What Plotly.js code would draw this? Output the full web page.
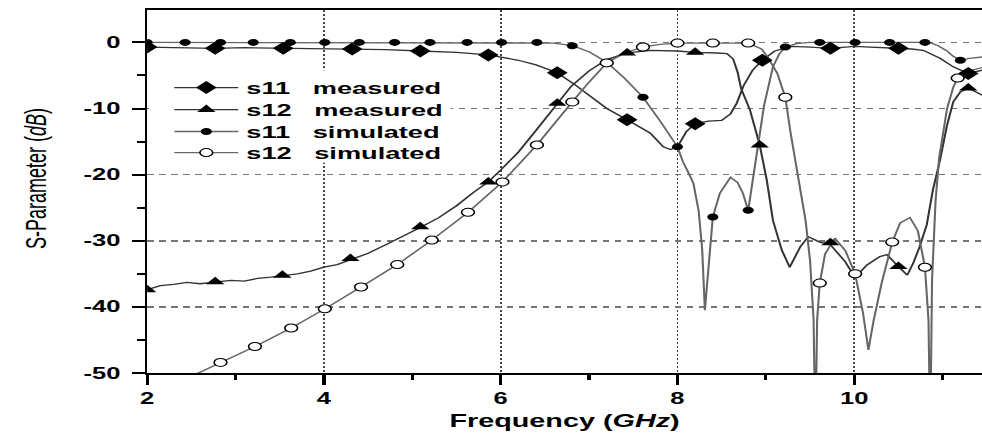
<!DOCTYPE html>
<html><head><meta charset="utf-8">
<script src="https://cdn.plot.ly/plotly-3.0.1.min.js"></script>
<style>
html,body{margin:0;padding:0;background:#fff;overflow:hidden;}
#wrap{width:982px;height:434px;overflow:hidden;position:relative;}
#chart{width:614px;height:434px;transform:scaleX(1.5993);transform-origin:0 0;}
#chart .ytitle{translate:0 -13px;}
</style></head><body>
<div id="wrap"><div id="chart"></div></div>
<script>
// ---- data (frequency in GHz, S-parameter in dB) ----
const s11MeasX = [2.0,2.3,2.77,3.1,3.54,3.9,4.32,4.7,5.09,5.5,5.86,6.2,6.4,6.64,6.85,7.0,7.2,7.43,7.69,7.84,7.92,8.0,8.1,8.2,8.35,8.5,8.6,8.67,8.75,8.85,8.96,9.1,9.3,9.5,9.73,10.0,10.2,10.5,10.65,10.78,10.97,11.12,11.29,11.45];
const s11MeasY = [-0.7,-0.8,-0.9,-0.8,-0.9,-0.9,-1.0,-1.1,-1.3,-1.5,-1.9,-2.7,-3.4,-4.6,-6.5,-8.0,-10.0,-11.7,-13.7,-15.8,-16.2,-15.8,-13.5,-12.3,-11.9,-11.8,-10.8,-9.2,-6.5,-4.2,-2.7,-1.3,-0.6,-0.7,-0.9,-0.6,-0.7,-0.9,-1.0,-1.2,-2.4,-3.7,-4.7,-4.2];

const s12MeasX = [2.0,2.15,2.3,2.45,2.6,2.77,2.95,3.1,3.25,3.4,3.53,3.7,3.85,4.0,4.15,4.3,4.5,4.7,4.9,5.09,5.3,5.5,5.7,5.86,6.0,6.2,6.4,6.64,6.8,7.0,7.2,7.43,7.7,8.0,8.2,8.45,8.56,8.63,8.68,8.72,8.82,8.93,9.01,9.08,9.18,9.27,9.39,9.48,9.61,9.73,9.9,10.01,10.14,10.29,10.37,10.5,10.6,10.67,10.74,10.82,10.89,10.97,11.05,11.12,11.2,11.29,11.45];
const s12MeasY = [-37.4,-36.8,-36.6,-36.3,-36.5,-36.3,-36.0,-36.1,-35.7,-35.5,-35.3,-35.0,-34.6,-34.0,-33.6,-32.9,-31.9,-30.6,-29.3,-28.0,-26.5,-24.7,-22.6,-21.1,-19.3,-16.6,-13.3,-9.2,-6.6,-4.3,-2.6,-1.6,-1.2,-1.3,-1.5,-1.6,-1.7,-2.5,-4.5,-7.0,-10.2,-15.5,-20.8,-26.9,-31.4,-34.0,-30.9,-29.4,-30.2,-30.6,-33.2,-35.6,-33.7,-32.4,-32.1,-33.9,-35.2,-33.3,-30.9,-27.6,-22.3,-17.8,-12.5,-9.0,-7.5,-6.9,-8.0];

const s11SimX = [2.0,2.5,3.0,3.5,4.0,4.5,5.0,5.5,6.0,6.4,6.6,6.81,7.0,7.2,7.4,7.61,7.8,8.0,8.06,8.12,8.18,8.24,8.28,8.31,8.34,8.37,8.4,8.48,8.6,8.68,8.74,8.8,8.84,8.9,8.98,9.08,9.15,9.22,9.35,9.5,10.0,10.5,10.85,10.95,11.05,11.12,11.2,11.3,11.45];
const s11SimY = [0,0,0,0,0,0,0,0,0,0,-0.1,-0.5,-1.4,-3.0,-5.4,-8.3,-11.8,-15.8,-18.0,-19.6,-21.3,-25.5,-31.4,-40.5,-35.0,-31.4,-26.4,-22.8,-20.4,-21.2,-22.8,-25.4,-22.0,-16.3,-9.5,-3.7,-1.8,-0.7,-0.2,0,0,0,0,-0.5,-1.3,-2.1,-2.7,-2.4,-2.2];

const s12SimX = [2.5,2.83,3.22,3.63,4.01,4.42,4.83,5.22,5.63,6.02,6.41,6.81,7.0,7.2,7.4,7.61,7.8,8.0,8.4,8.8,8.95,9.02,9.13,9.22,9.28,9.39,9.45,9.5,9.54,9.56,9.58,9.61,9.67,9.78,9.9,10.01,10.1,10.16,10.22,10.31,10.43,10.52,10.63,10.72,10.8,10.84,10.86,10.88,10.92,10.96,11.05,11.12,11.17,11.3,11.45];
const s12SimY = [-50.5,-48.4,-46.0,-43.2,-40.3,-37.0,-33.6,-29.9,-25.7,-21.1,-15.5,-9.0,-6.0,-3.1,-1.6,-0.7,-0.3,-0.1,-0.1,-0.1,-1.0,-2.2,-4.7,-8.3,-13.7,-21.8,-27.0,-33.0,-42.0,-60.0,-42.0,-36.4,-32.0,-29.6,-31.5,-35.0,-41.0,-46.5,-42.0,-36.4,-30.2,-27.3,-26.5,-28.5,-34.0,-42.0,-60.0,-36.0,-24.0,-17.5,-10.0,-6.8,-5.4,-4.3,-3.8];

// marker positions
const s11MeasMkX = [2.0,2.77,3.54,4.32,5.09,5.86,6.64,7.43,8.2,8.96,9.73,10.5,11.29];
const s11MeasMkY = [-0.7,-0.9,-0.9,-1.0,-1.3,-1.9,-4.6,-11.7,-12.3,-2.7,-0.9,-0.9,-4.7];
const s12MeasMkX = [2.0,2.77,3.53,4.3,5.09,5.86,6.64,7.43,8.2,8.93,9.73,10.5,11.29];
const s12MeasMkY = [-37.4,-36.2,-35.2,-32.7,-27.9,-21.1,-9.2,-1.6,-1.5,-15.5,-30.3,-33.9,-6.9];
const s11SimMkX = [2.0,2.43,2.83,3.2,3.62,4.01,4.4,4.8,5.2,5.62,6.01,6.41,6.81,7.2,7.61,8.0,8.4,8.8,9.22,9.61,10.01,10.4,10.8,11.2];
const s11SimMkY = [0,0,0,0,0,0,0,0,0,0,0,0,-0.5,-3.0,-8.3,-15.8,-26.4,-25.4,-0.7,0,0,0,0,-2.7];
const s12SimMkX = [2.83,3.22,3.63,4.01,4.42,4.83,5.22,5.63,6.02,6.41,6.81,7.2,7.61,8.0,8.4,8.8,9.22,9.61,10.01,10.43,10.8,11.17];
const s12SimMkY = [-48.4,-46.0,-43.2,-40.3,-37.0,-33.6,-29.9,-25.7,-21.1,-15.5,-9.0,-3.1,-0.7,-0.1,-0.1,-0.1,-8.3,-36.4,-35.0,-30.2,-34.0,-5.4];

// axes ticks
const xTickVals = [2,4,6,8,10];
const xTickText = ['2','4','6','8','10'];
const xMinorVals = [3,5,7,9,11];
const yTickVals = [-50,-40,-30,-20,-10,0];
const yTickText = ['-50','-40','-30','-20','-10','0'];
const yMinorVals = [-45,-35,-25,-15,-5];

const seriesNames = ['s11\u00a0\u00a0\u00a0measured','s12\u00a0\u00a0\u00a0measured','s11\u00a0\u00a0\u00a0simulated','s12\u00a0\u00a0\u00a0simulated'];

// ---- styling ----
const FONT = '"Liberation Sans", Arial, sans-serif';
const measLine = {color:'#333', width:1.3};
const simLine = {color:'#666', width:1.3};
const mk = [
  {symbol:'diamond', size:10, color:'#000'},
  {symbol:'triangle-up', size:10, color:'#000'},
  {symbol:'circle', size:7, color:'#000'},
  {symbol:'circle', size:8, color:'#fff', line:{color:'#000', width:1}}
];
const lines = [measLine, measLine, simLine, simLine];

const curves = [[s11MeasX,s11MeasY],[s12MeasX,s12MeasY],[s11SimX,s11SimY],[s12SimX,s12SimY]];
const marks = [[s11MeasMkX,s11MeasMkY],[s12MeasMkX,s12MeasMkY],[s11SimMkX,s11SimMkY],[s12SimMkX,s12SimMkY]];

const data = [];
curves.forEach((c,i)=>data.push({x:c[0], y:c[1], type:'scatter', mode:'lines', line:lines[i], showlegend:false, hoverinfo:'skip'}));
marks.forEach((m,i)=>data.push({x:m[0], y:m[1], type:'scatter', mode:'markers', marker:mk[i], showlegend:false, hoverinfo:'skip'}));
const legIds = ['legend','legend2','legend3','legend4'];
seriesNames.forEach((n,i)=>data.push({x:[null], y:[null], type:'scatter', mode:'lines+markers', name:n, line:lines[i], marker:mk[i], legend:legIds[i], showlegend:true}));

const legFont = {family:FONT, size:17, color:'#000', weight:'bold'};
const rowY = [0.785, 0.7245, 0.664, 0.606];
const layout = {
  width:614, height:434,
  margin:{l:92, r:0, t:10, b:61},
  paper_bgcolor:'#fff', plot_bgcolor:'#fff',
  font:{family:FONT, color:'#000'},
  xaxis:{
    range:[2,11.445], tickmode:'array', tickvals:xTickVals, ticktext:xTickText,
    ticks:'outside', ticklen:10, tickwidth:2, tickcolor:'#000',
    showline:true, linecolor:'#000', linewidth:2, mirror:true,
    showgrid:true, gridcolor:'#444', gridwidth:1.1, griddash:'2px,2px', zeroline:false,
    minor:{tickmode:'array', tickvals:xMinorVals, ticks:'outside', ticklen:5, tickwidth:2, tickcolor:'#000', showgrid:false},
    tickfont:{family:FONT, size:16, weight:'bold', color:'#000'},
    title:{text:'Frequency (<i>GHz</i>)', font:{family:FONT, size:18, weight:'bold', color:'#000'}, standoff:8},
    automargin:false
  },
  yaxis:{
    range:[-50,4.9], tickmode:'array', tickvals:yTickVals, ticktext:yTickText,
    ticks:'outside', ticklen:8, tickwidth:2, tickcolor:'#000',
    showline:true, linecolor:'#000', linewidth:1.5, mirror:false,
    showgrid:true, gridcolor:'#777', gridwidth:1.5, griddash:'4px,3.5px', zeroline:false,
    minor:{tickmode:'array', tickvals:yMinorVals, ticks:'outside', ticklen:5, tickwidth:2, tickcolor:'#000', showgrid:false},
    tickfont:{family:FONT, size:16, weight:'bold', color:'#000'},
    ticklabelstandoff:4,
    title:{text:'S-Parameter (<i>dB</i>)', font:{family:FONT, size:18, color:'#000'}, standoff:18},
    automargin:false
  },
  // white panel behind the legend (no curve passes through this area; legends are drawn above it)
  shapes:[{type:'rect', xref:'x', yref:'y', x0:2.02, x1:5.43, y0:-18.2, y1:-4.2,
           fillcolor:'#fff', line:{width:0}, layer:'above'}]
};
legIds.forEach((id,i)=>{
  layout[id] = {x:0.023, y:rowY[i], xanchor:'left', yanchor:'middle', bgcolor:'rgba(0,0,0,0)', borderwidth:0,
    font:legFont, itemwidth:40, itemclick:false, itemdoubleclick:false};
});

Plotly.newPlot('chart', data, layout, {displayModeBar:false, staticPlot:true});
</script>
</body></html>
